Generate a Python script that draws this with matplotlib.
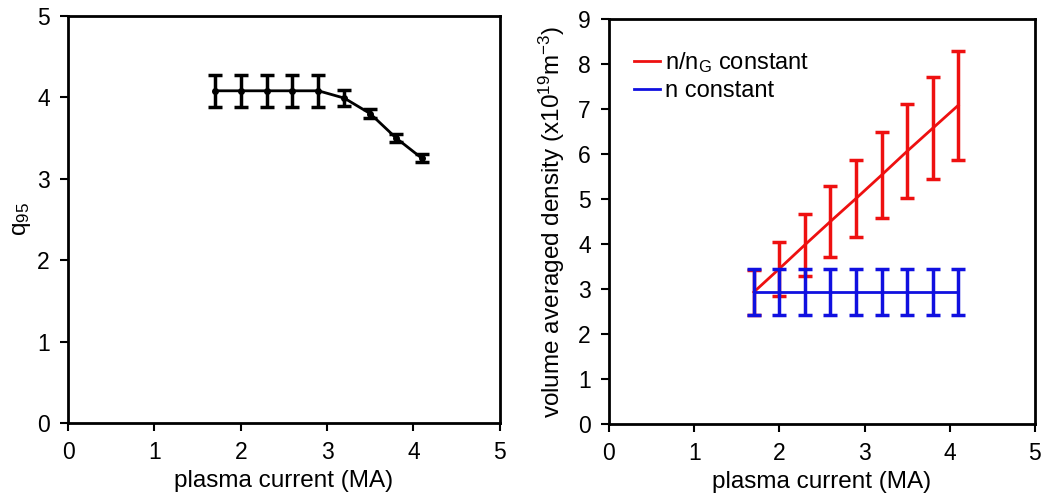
import numpy as np
import matplotlib
matplotlib.use('Agg')
import matplotlib.pyplot as plt

plt.rcParams.update({'font.size': 17.5,
                     'font.family': 'sans-serif',
                     'font.sans-serif': ['Liberation Sans', 'DejaVu Sans'],
                     'mathtext.default': 'regular'})

# plasma current (MA)
ip = [1.7, 2.0, 2.3, 2.6, 2.9, 3.2, 3.5, 3.8, 4.1]

# left panel: q95
q95 = [4.08, 4.08, 4.08, 4.08, 4.08, 3.99, 3.80, 3.50, 3.25]
q95_err = [0.2, 0.2, 0.2, 0.2, 0.2, 0.1, 0.06, 0.05, 0.05]

# right panel: density
n_ng = [2.93, 3.45, 3.98, 4.50, 5.01, 5.53, 6.06, 6.57, 7.08]
n_ng_err = [0.5, 0.6, 0.69, 0.78, 0.86, 0.95, 1.04, 1.13, 1.21]
n_const = [2.93, 2.93, 2.93, 2.93, 2.93, 2.93, 2.93, 2.93, 2.93]
n_const_err = [0.51, 0.51, 0.51, 0.51, 0.51, 0.51, 0.51, 0.51, 0.51]

fig = plt.figure(figsize=(10.58, 4.97), dpi=100)
ax1 = fig.add_axes([0.0643, 0.149, 0.408, 0.819])
ax2 = fig.add_axes([0.5756, 0.147, 0.4026, 0.815])

ax1.errorbar(ip, q95, yerr=q95_err, color='k', lw=2, marker='o', ms=4,
             elinewidth=2.5, capsize=5, capthick=2.5)
ax1.set_xlim(0, 5)
ax1.set_ylim(0, 5)
ax1.set_xticks(range(6))
ax1.set_yticks(range(6))
ax1.set_xlabel('plasma current (MA)', labelpad=4)
ax1.set_ylabel('q$_{95}$', labelpad=3)

ax2.errorbar(ip, n_const, yerr=n_const_err, color='#1010e0', lw=2,
             elinewidth=2.5, capsize=5, capthick=2.5, label='n constant', zorder=2)
ax2.errorbar(ip, n_ng, yerr=n_ng_err, color='#ee1010', lw=2,
             elinewidth=2.5, capsize=5, capthick=2.5, label='n/n$_G$ constant', zorder=1)
ax2.set_xlim(0, 5)
ax2.set_ylim(0, 9)
ax2.set_xticks(range(6))
ax2.set_yticks(range(10))
ax2.set_xlabel('plasma current (MA)', labelpad=4)
ax2.set_ylabel('volume averaged density (x10$^{19}$m$^{-3}$)', labelpad=8)
h, l = ax2.get_legend_handles_labels()
ax2.legend([h[1][0], h[0][0]], [l[1], l[0]], loc='upper left', frameon=False,
           handlelength=1.1, handletextpad=0.2, labelspacing=0.2,
           bbox_to_anchor=(0.01, 0.975), fontsize=17)

for ax in (ax1, ax2):
    ax.tick_params(direction='out', length=6, width=1.5, labelsize=16.5, pad=7)
    for s in ax.spines.values():
        s.set_linewidth(2)

plt.savefig('out.png', dpi=100)
